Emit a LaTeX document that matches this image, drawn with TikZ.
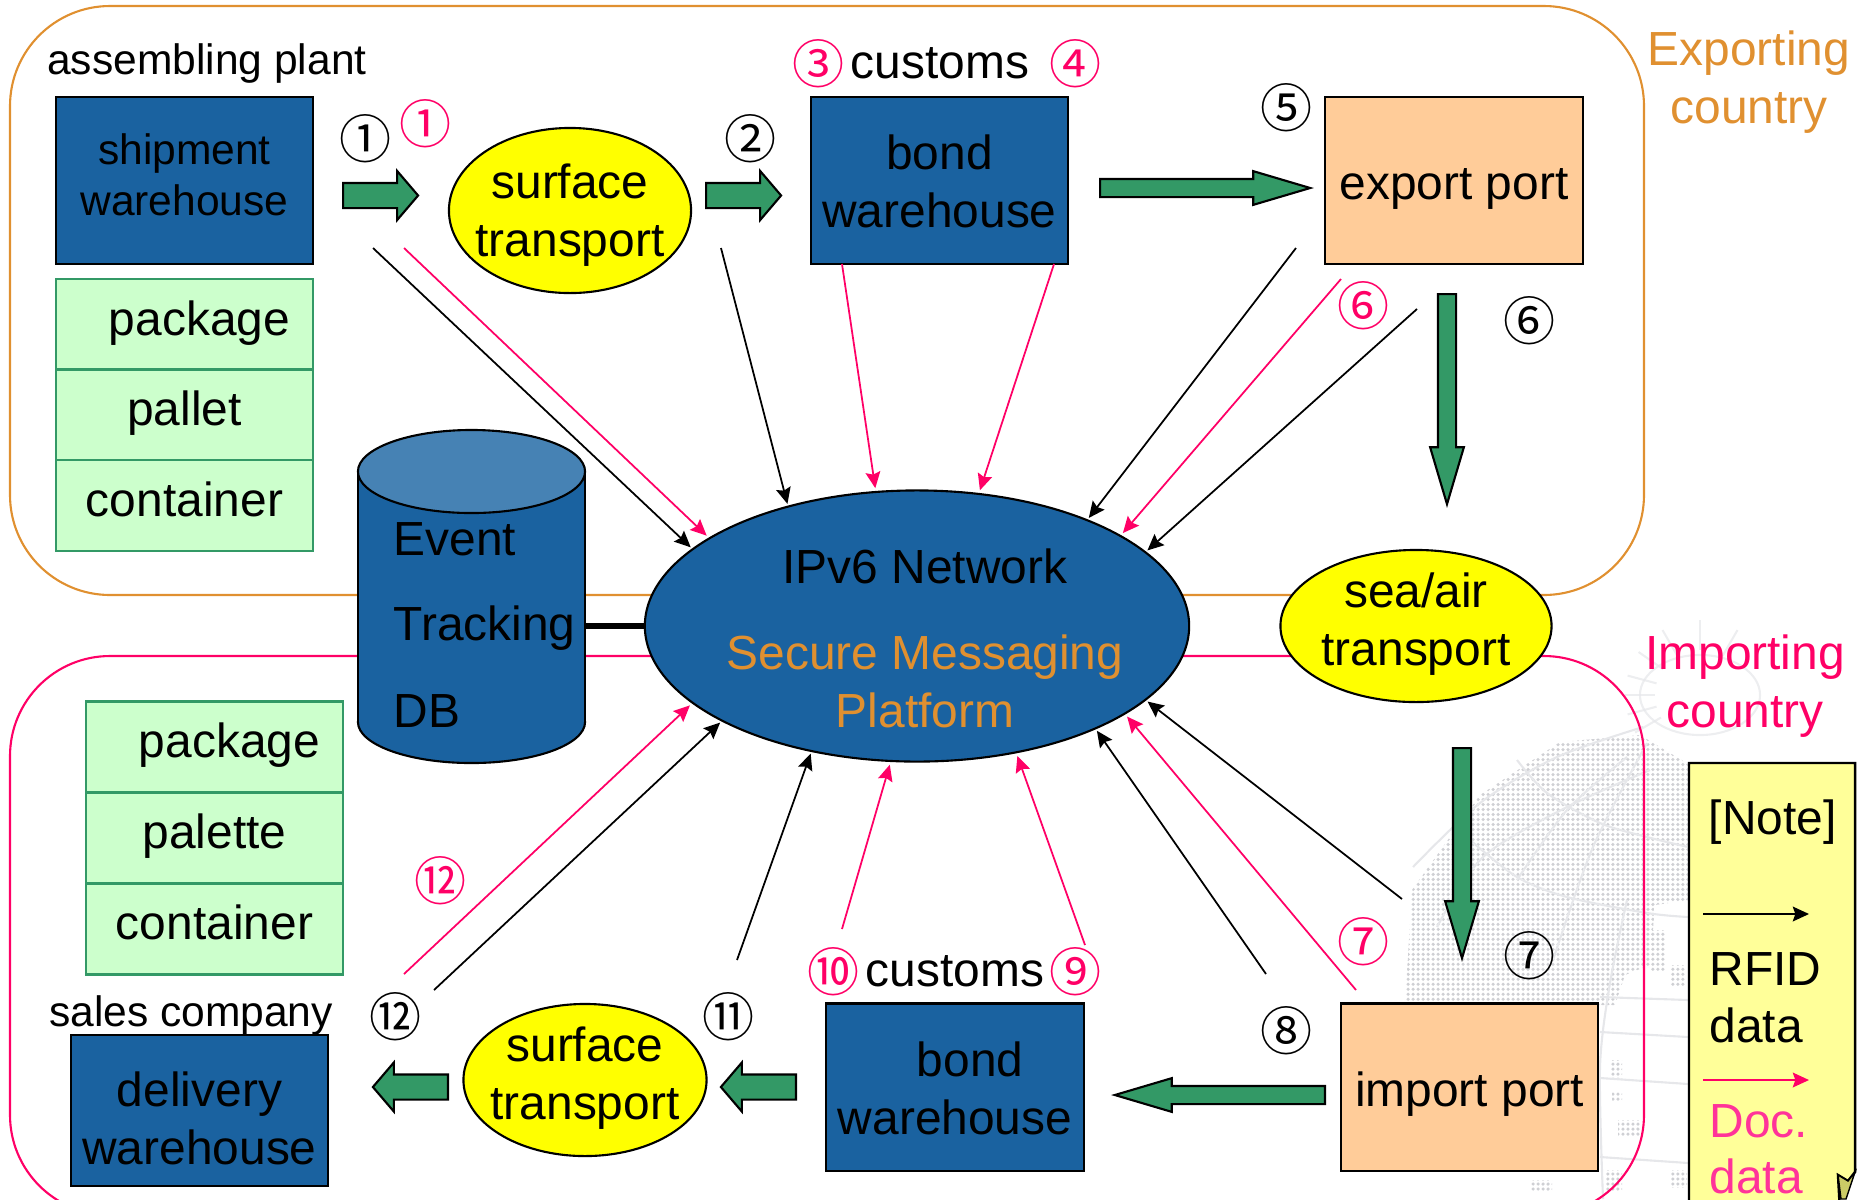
\documentclass[tikz,border=0pt]{standalone}
\usepackage{fontspec}
\setmainfont{Liberation Sans}
\newfontfamily\circfont{Noto Sans CJK JP}
\usetikzlibrary{shapes.geometric,shapes.arrows,arrows.meta,patterns.meta}
\definecolor{netblue}{HTML}{1A62A0}
\definecolor{capblue}{HTML}{4682B4}
\definecolor{arrowgreen}{HTML}{339966}
\definecolor{stackgreen}{HTML}{CCFFCC}
\definecolor{portpeach}{HTML}{FFCC99}
\definecolor{notepale}{HTML}{FFFF99}
\definecolor{curlkhaki}{HTML}{CCCC66}
\definecolor{bubbleyellow}{HTML}{FFFF00}
\definecolor{exportorange}{HTML}{E09030}
\definecolor{importpink}{HTML}{FF0066}
\definecolor{docpink}{HTML}{FF3399}
\definecolor{globegray}{HTML}{E6E7EA}
\definecolor{dotgray}{HTML}{CFD0D4}
\newcommand{\bigtext}{\fontsize{13.62}{16.5}\selectfont}
\newcommand{\smalltext}{\fontsize{12.1}{14.5}\selectfont}
\tikzset{
  boxnode/.style={rectangle,draw=black,line width=.6pt,minimum width=2.57cm,align=center,inner sep=0pt,font=\bigtext},
  bluebox/.style={boxnode,fill=netblue,minimum height=1.67cm},
  portbox/.style={boxnode,fill=portpeach,minimum height=1.67cm},
  stackbox/.style={boxnode,draw=arrowgreen,fill=stackgreen,minimum height=.91cm,text height=.83em,text depth=.21em},
  bubble/.style={ellipse,draw=black,line width=.6pt,fill=bubbleyellow,inner sep=0pt},
  tag/.style={font=\bigtext,inner sep=0pt,align=center},
  circnum/.style={font=\fontsize{14.8}{14.8}\circfont,inner sep=0pt},
  blockshort/.style={single arrow,draw=black,line width=.6pt,fill=arrowgreen,anchor=tail,inner sep=0pt,text height=.23cm,text depth=0pt,minimum height=.75cm,single arrow head extend=.12cm,single arrow tip angle=99,single arrow head indent=0pt},
  blocklong/.style={single arrow,draw=black,line width=.6pt,fill=arrowgreen,anchor=tail,inner sep=0pt,text height=.16cm,text depth=0pt,single arrow head extend=.078cm,single arrow tip angle=33,single arrow head indent=0pt},
  rfid/.style={->,black,line width=.5pt},
  docdata/.style={->,importpink,line width=.5pt},
  globeline/.style={globegray,line width=.6pt},
}
\begin{document}
\begin{tikzpicture}[x=.01cm,y=-.01cm,>={Stealth[length=4.6pt,width=4.2pt,inset=.7pt]}]
\useasboundingbox (0,0) rectangle (1863,1199);
\clip (0,0) rectangle (1863,1199);
% globe behind the importing side
\fill[pattern={Dots[distance=1.42pt,radius=.5pt]},pattern color=dotgray] (1405,1005) -- (1412,890) -- (1480,795) -- (1560,742) -- (1640,735) -- (1690,765) -- (1690,900) -- (1655,905) -- (1650,965) -- (1625,975) -- (1615,1005) -- cycle;
\foreach \xa/\ya/\xb/\yb in {1650/930/1665/970,1670/965/1685/985,1610/1060/1622/1078,1612/1092/1622/1100,1618/1120/1640/1135,1605/1170/1622/1190,1670/1170/1687/1187,1530/1180/1552/1190}
  \fill[pattern={Dots[distance=1.42pt,radius=.5pt]},pattern color=dotgray] (\xa,\ya) rectangle (\xb,\yb);
\draw[globeline,smooth] plot coordinates {(1413,867) (1480,803) (1557,757) (1643,727)};
\draw[globeline,smooth] plot coordinates {(1437,927) (1483,857) (1567,807) (1650,770)};
\draw[globeline,smooth] plot coordinates {(1517,880) (1567,810) (1627,757)};
\draw[globeline,smooth] plot coordinates {(1553,960) (1593,847) (1647,743)};
\draw[globeline,smooth] plot coordinates {(1517,760) (1547,793) (1600,823) (1647,837) (1688,847)};
\draw[globeline,smooth] plot coordinates {(1470,840) (1517,877) (1567,897) (1647,913) (1688,917)};
\draw[globeline,smooth] plot coordinates {(1627,900) (1610,983) (1600,1067) (1603,1199)};
\foreach \ya/\yb in {997/1000,1032/1037,1078/1084,1157/1163}
  \draw[globeline] (1600,\ya) -- (1688,\yb);
\foreach \ang in {150,165,180,195,215,240,270,300}
  \draw[globeline,opacity=.7] (1700,695) ++(\ang:45) -- ++(\ang:30);
\draw[globeline,opacity=.7] (1700,695) ellipse [x radius=.6cm,y radius=.4cm];
% the two countries
\draw[exportorange,line width=.6pt,rounded corners=1cm] (10,6) rectangle (1644,595);
\draw[importpink,line width=.6pt,rounded corners=1cm] (10,656) rectangle (1644,1215);
% note paper
\draw[black,line width=.7pt,fill=notepale] (1689,1230) -- (1689,763) -- (1855,763) -- (1855,1172) -- (1848,1181) -- (1838,1175) -- (1841,1230);
\fill[curlkhaki,draw=black,line width=.4pt] (1838,1175) -- (1848,1181) -- (1855,1172) -- (1846,1199) -- (1841,1199) -- cycle;
\node[tag,anchor=base west] (notehead) at (1708,834) {[Note]};
\coordinate (rfidleft) at (1703,914);
\coordinate (rfidright) at (1809,914);
\draw[rfid] (rfidleft) -- (rfidright);
\node[tag,anchor=base west] (rfidone) at (1709,985) {RFID};
\node[tag,anchor=base west] (rfidtwo) at (1709,1042) {data};
\coordinate (docleft) at (1703,1080);
\coordinate (docright) at (1809,1080);
\draw[docdata] (docleft) -- (docright);
\node[tag,anchor=base west,text=docpink] (docone) at (1709,1137) {Doc.};
\node[tag,anchor=base west,text=docpink] (doctwo) at (1709,1193) {data};
% sites of the exporting side
\node[bluebox] (shipment) at (184.5,180.5) {};
\node[tag,font=\smalltext] (shipmenttext) at (184.5,175) {shipment\\warehouse};
\node[stackbox] (packone) at (184.5,324.5) {\hspace*{.3cm}package};
\node[stackbox] (palletone) at (184.5,415) {pallet};
\node[stackbox] (contone) at (184.5,505.5) {container};
\node[bubble,minimum width=2.42cm,minimum height=1.65cm] (roadone) at (570,210.5) {};
\node[tag] (roadonetext) at (570,215.5) {surface\\transport};
\node[bluebox] (bondone) at (939.5,180.5) {};
\node[tag] (bondonetext) at (939.5,181) {bond\\warehouse};
\node[portbox] (export) at (1454,180.5) {};
\node[tag] (exporttext) at (1454,188.5) {export port};
% sites of the importing side
\node[stackbox] (packtwo) at (214.5,747) {\hspace*{.3cm}package};
\node[stackbox] (palettwo) at (214.5,838) {palette};
\node[stackbox] (conttwo) at (214.5,929) {container};
\node[bluebox,minimum height=1.51cm] (delivery) at (199.5,1110.5) {};
\node[tag] (deliverytext) at (199.5,1118.5) {delivery\\warehouse};
\node[bubble,minimum width=2.43cm,minimum height=1.52cm] (roadtwo) at (585,1080) {};
\node[tag] (roadtwotext) at (585,1078) {surface\\transport};
\node[bluebox] (bondtwo) at (955,1087) {};
\node[tag] (bondtwotext) at (955,1088) {\hspace*{.3cm}bond\\warehouse};
\node[portbox] (import) at (1469.5,1087) {};
\node[tag] (importtext) at (1469.5,1094) {import port};
\node[bubble,minimum width=2.71cm,minimum height=1.52cm] (seaair) at (1416,626) {};
\node[tag] (seaairtext) at (1416,624) {sea/air\\transport};
% database and network
\draw[black,line width=.6pt,fill=netblue] (471.5,722) ellipse [x radius=1.135cm,y radius=.41cm];
\fill[netblue] (358,471.5) rectangle (585,722);
\draw[black,line width=.6pt] (358,471.5) -- (358,722) (585,471.5) -- (585,722);
\draw[black,line width=.6pt,fill=capblue] (471.5,471.5) ellipse [x radius=1.135cm,y radius=.415cm];
\coordinate (eventdb) at (585,626);
\node[ellipse,draw=black,line width=.6pt,fill=netblue,minimum width=5.44cm,minimum height=2.71cm,inner sep=0pt] (net) at (917,626) {};
\draw[line width=1.5pt] (eventdb) -- (net.west);
\node[tag,anchor=base west] (dbone) at (393,555) {Event};
\node[tag,anchor=base west] (dbtwo) at (393,640) {Tracking};
\node[tag,anchor=base west] (dbthree) at (393,727) {DB};
\node[tag,anchor=base] (netone) at (925,583) {IPv6 Network};
\node[tag,anchor=base,text=exportorange] (nettwo) at (925,669) {Secure Messaging};
\node[tag,anchor=base,text=exportorange] (netthree) at (925,727) {Platform};
% free ends of the thin arrows
\foreach \name/\x/\y in {bfirst/373/248,pfirst/404/248,bsecond/721/248,pthird/842/264,pfourth/1054/264,bfifth/1296/248,psixth/1341/279,bsixth/1417/309,bseventh/1402/899,pseventh/1356/990,beighth/1266/974,pninth/1085/945,ptenth/842/929,beleventh/737/960,btwelfth/434/990,ptwelfth/404/974}
  \coordinate (\name) at (\x,\y);
\foreach \from/\ang in {bfirst/161.2,bsecond/137.4,bfifth/32.4,bsixth/18.4,bseventh/-18.7,beighth/-30.7,beleventh/-130.2,btwelfth/-154.7}
  \draw[rfid,shorten >=.5pt] (\from) -- (net.\ang);
\foreach \from/\ang in {pfirst/157.4,pthird/107.8,pfourth/65.3,psixth/24.6,pseventh/-23.8,pninth/-52,ptenth/-101.7,ptwelfth/-161.2}
  \draw[docdata,shorten >=.8pt] (\from) -- (net.\ang);
% block arrows
\node[blockshort] (moveone) at (342,195.5) {};
\node[blockshort] (movetwo) at (705,195.5) {};
\node[blocklong,minimum height=2.10cm] (movethree) at (1099,188) {};
\node[blocklong,minimum height=2.10cm,rotate=-90] (movefour) at (1447,293) {};
\node[blocklong,minimum height=2.10cm,rotate=-90] (movefive) at (1462,747) {};
\node[blocklong,minimum height=2.10cm,rotate=180] (movesix) at (1326,1095) {};
\node[blockshort,rotate=180] (moveseven) at (797,1087) {};
\node[blockshort,rotate=180] (moveeight) at (449,1087) {};
% labels
\node[tag,font=\smalltext] (plant) at (207,63) {assembling plant};
\node[tag,font=\smalltext] (sales) at (191,1015) {sales company};
\node[tag] (customsone) at (940,63) {customs};
\node[tag] (customstwo) at (955,971) {customs};
\node[tag,text=exportorange] (exporting) at (1749,82) {Exporting\\country};
\node[tag,text=importpink] (importing) at (1745,686) {Importing\\country};
% step numbers
\foreach \name/\x/\y/\num in {none/366/139/①,ntwo/751/139/②,nfive/1287/108/⑤,nsix/1530/321/⑥,nseven/1530/956/⑦,neight/1287/1031/⑧,neleven/729/1017/⑪,ntwelve/396/1017/⑫}
  \node[circnum] (\name) at (\x,\y) {\num};
\foreach \name/\x/\y/\num in {rone/426/124/①,rthree/819/64/③,rfour/1076/64/④,rsix/1364/306/⑥,rseven/1364/942/⑦,rnine/1076/972/⑨,rten/834/972/⑩,rtwelve/441/881/⑫}
  \node[circnum,text=importpink] (\name) at (\x,\y) {\num};
\end{tikzpicture}
\end{document}
